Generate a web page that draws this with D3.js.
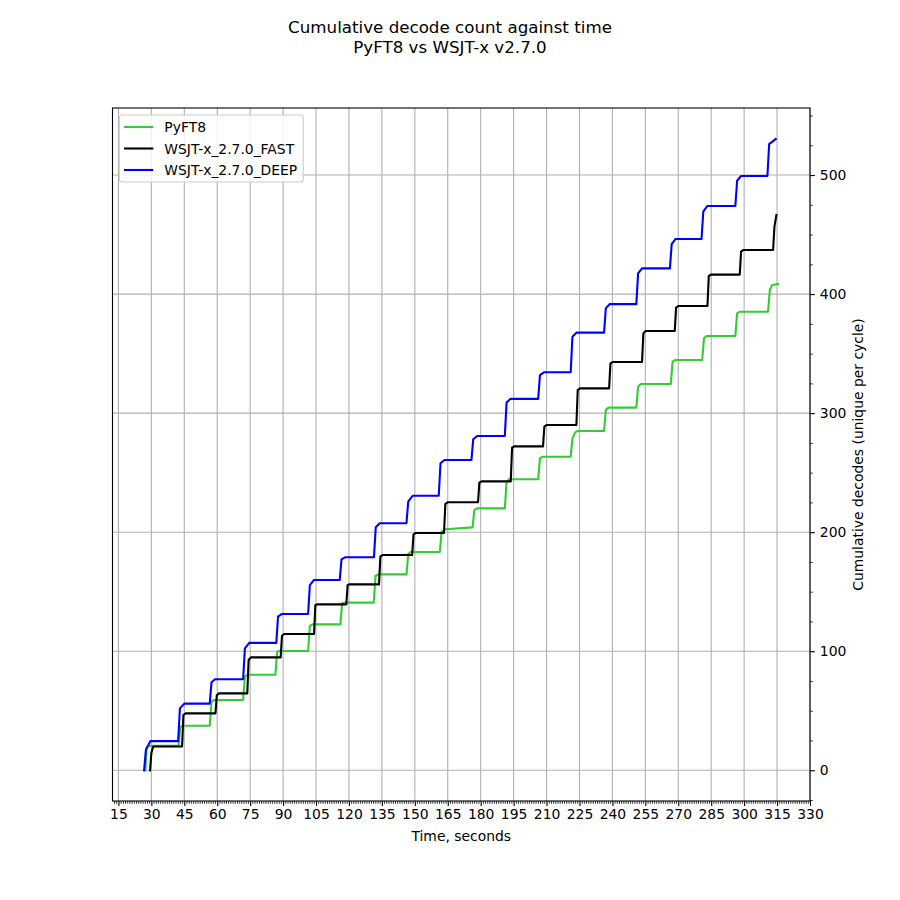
<!DOCTYPE html>
<html>
<head>
<meta charset="utf-8">
<script src="https://cdn.jsdelivr.net/npm/d3@7"></script>
<style>
  html, body { margin: 0; padding: 0; background: #fff; }
  svg text { font-family: "DejaVu Sans", sans-serif; fill: #000; }
</style>
</head>
<body>
<div id="chart"></div>
<script>
// cumulative decodes vs time
const pyft8 = [
  [27.3, 0], [27.8, 19], [28.5, 20.5],
  [42.4, 20.5], [43.2, 36.6], [44.5, 37.4],
  [56.6, 37.4], [57.4, 57.6], [58.5, 59],
  [71.8, 59], [72.6, 78.8], [73.8, 80.2],
  [86.5, 80.2], [87.3, 99.6], [88.5, 100.2],
  [101.4, 100.2], [102.2, 121.2], [103.4, 122.6],
  [116.1, 122.6], [116.9, 140.3], [118.0, 140.8],
  [131.3, 140.8], [132.1, 163.2], [133.3, 164.6],
  [146.2, 164.6], [147.0, 181.7], [148.2, 183.4],
  [161.4, 183.4], [162.2, 200.4], [164.0, 202.5],
  [176.3, 204], [177.1, 218.6], [178.3, 220],
  [191.0, 220], [191.8, 242.4], [193.0, 244.4],
  [206.2, 244.4], [207.0, 262], [208.2, 263.4],
  [221.0, 263.4], [221.8, 278.8], [223.0, 283.6], [224.0, 285],
  [236.2, 285], [237.0, 302.6], [238.2, 304.6],
  [250.9, 304.6], [251.7, 322.2], [252.9, 324.5],
  [266.6, 324.5], [267.4, 343.2], [268.6, 344.6],
  [280.9, 344.6], [281.7, 362.8], [282.9, 364.8],
  [296.0, 364.8], [296.8, 383.8], [298.0, 385.2],
  [310.9, 385.2], [311.7, 403.4], [312.8, 407.6], [315.5, 408.5]
];

const wsjtFast = [
  [29.4, 0], [30.0, 14.3], [30.8, 20],
  [44.0, 20], [44.6, 46.4], [45.6, 47.8],
  [59.2, 47.8], [59.8, 63], [60.8, 64.6],
  [73.7, 64.6], [74.3, 92.6], [75.3, 94.8],
  [88.9, 94.8], [89.5, 113], [90.5, 114.5],
  [104.1, 114.5], [104.7, 138.8], [105.7, 139.4],
  [118.8, 139.4], [119.4, 155.6], [120.4, 156.2],
  [133.7, 156.2], [134.3, 179.4], [135.3, 180.8],
  [148.8, 180.8], [149.4, 198.2], [150.4, 199.3],
  [163.3, 199.3], [163.9, 223.7], [164.9, 225.1],
  [178.8, 225.1], [179.4, 241.6], [180.4, 242.7],
  [193.7, 242.7], [194.3, 271], [195.3, 272.1],
  [208.4, 272.1], [209.0, 288.6], [210.0, 290],
  [223.6, 290], [224.2, 319.4], [225.2, 320.8],
  [238.5, 320.8], [239.1, 341.8], [240.1, 342.9],
  [253.5, 342.9], [254.1, 367], [255.1, 369],
  [268.4, 369], [269.0, 388.6], [270.0, 390],
  [283.3, 390], [283.9, 415.2], [284.9, 416.3],
  [298.0, 416.3], [298.6, 435.6], [299.6, 437],
  [313.2, 437], [313.8, 456.6], [314.7, 466.4]
];

const wsjtDeep = [
  [26.7, 0], [27.5, 17], [29.5, 24.5],
  [42.2, 24.5], [43.0, 52], [45.0, 56],
  [56.6, 56], [57.4, 74], [59.0, 76.5],
  [71.8, 76.5], [72.6, 102.4], [74.6, 107],
  [86.9, 107], [87.7, 129], [89.5, 131.3],
  [101.4, 131.3], [102.2, 155.6], [104.0, 159.8],
  [115.8, 159.8], [116.6, 177.2], [118.4, 179],
  [131.4, 179], [132.2, 204.1], [134.0, 207.5],
  [146.2, 207.5], [147.0, 225.6], [149.0, 230.6],
  [160.9, 230.6], [161.7, 257.9], [163.5, 260.6],
  [175.8, 260.6], [176.6, 278], [178.4, 280.8],
  [191.0, 280.8], [191.8, 309], [193.6, 312],
  [206.2, 312], [207.0, 332], [208.8, 334.3],
  [221.0, 334.3], [221.8, 364.2], [223.6, 367.6],
  [236.2, 367.6], [237.0, 388], [238.8, 391.6],
  [250.9, 391.6], [251.7, 417.4], [253.5, 421.6],
  [266.2, 421.6], [267.0, 442], [268.8, 446.3],
  [280.6, 446.3], [281.4, 469.2], [283.2, 474],
  [296.0, 474], [296.8, 495.2], [298.6, 499.2],
  [310.6, 499.2], [311.4, 526], [314.4, 530.3]
];

const seriesNames = ['PyFT8', 'WSJT-x_2.7.0_FAST', 'WSJT-x_2.7.0_DEEP'];
const seriesColors = ['#32cd32', '#000000', '#0000ff'];
const xTicks = [15, 30, 45, 60, 75, 90, 105, 120, 135, 150, 165, 180, 195, 210, 225, 240, 255, 270, 285, 300, 315, 330];
const yTicks = [0, 100, 200, 300, 400, 500];
const titleLines = ['Cumulative decode count against time', 'PyFT8 vs WSJT-x v2.7.0'];

const W = 900, H = 900;
const margin = { left: 112.5, right: 90, top: 108, bottom: 99 };
const iw = W - margin.left - margin.right;
const ih = H - margin.top - margin.bottom;

const svg = d3.select('#chart').append('svg')
  .attr('width', W)
  .attr('height', H)
  .attr('viewBox', `0 0 ${W} ${H}`);

svg.append('rect').attr('width', W).attr('height', H).attr('fill', '#fff');

const x = d3.scaleLinear().domain([12.3, 330]).range([0, iw]);
const y = d3.scaleLinear().domain([-25.8, 556.3]).range([ih, 0]);

const g = svg.append('g').attr('transform', `translate(${margin.left},${margin.top})`);

svg.append('defs').append('clipPath').attr('id', 'plot-clip')
  .append('rect').attr('width', iw).attr('height', ih);

// grid
const grid = g.append('g').attr('class', 'grid');
grid.selectAll('line.gx')
  .data(xTicks)
  .join('line')
  .attr('class', 'gx')
  .attr('x1', d => x(d)).attr('x2', d => x(d))
  .attr('y1', 0).attr('y2', ih)
  .attr('stroke', '#b0b0b0').attr('stroke-width', 1.1);
grid.selectAll('line.gy')
  .data(yTicks)
  .join('line')
  .attr('class', 'gy')
  .attr('x1', 0).attr('x2', iw)
  .attr('y1', d => y(d)).attr('y2', d => y(d))
  .attr('stroke', '#b0b0b0').attr('stroke-width', 1.1);

// series
const line = d3.line().x(d => x(d[0])).y(d => y(d[1]));
const lines = g.append('g').attr('clip-path', 'url(#plot-clip)');
[pyft8, wsjtFast, wsjtDeep].forEach((data, i) => {
  lines.append('path')
    .datum(data)
    .attr('d', line)
    .attr('fill', 'none')
    .attr('stroke', seriesColors[i])
    .attr('stroke-width', 2.1)
    .attr('stroke-linejoin', 'round')
    .attr('stroke-linecap', 'square');
});

// axes
const xMinor = d3.range(13, 331).filter(v => v % 15 !== 0);
const yMinor = d3.range(-25, 551, 25).filter(v => v % 100 !== 0);

const xAxis = g.append('g').attr('transform', `translate(0,${ih})`)
  .call(d3.axisBottom(x).tickValues(xTicks).tickFormat(d3.format('d')).tickSize(4.9).tickPadding(3.5));
const xAxisMinor = g.append('g').attr('transform', `translate(0,${ih})`)
  .call(d3.axisBottom(x).tickValues(xMinor).tickFormat('').tickSize(2.8));

const yAxis = g.append('g').attr('transform', `translate(${iw},0)`)
  .call(d3.axisRight(y).tickValues(yTicks).tickFormat(d3.format('d')).tickSize(4.9).tickPadding(4.9));
const yAxisMinor = g.append('g').attr('transform', `translate(${iw},0)`)
  .call(d3.axisRight(y).tickValues(yMinor).tickFormat('').tickSize(2.8));

[xAxis, xAxisMinor, yAxis, yAxisMinor].forEach(a => {
  a.select('.domain').remove();
  a.selectAll('line').attr('stroke', '#000').attr('stroke-width', 1.1);
  a.selectAll('text').attr('font-size', 13.9).attr('font-family', '"DejaVu Sans", sans-serif').attr('fill', '#000');
});
xAxisMinor.selectAll('line').attr('stroke-width', 0.8);
yAxisMinor.selectAll('line').attr('stroke-width', 0.8);

// spines
g.append('rect')
  .attr('width', iw).attr('height', ih)
  .attr('fill', 'none').attr('stroke', '#000').attr('stroke-width', 1.1);

// labels
svg.append('text')
  .attr('x', margin.left + iw / 2).attr('y', 841)
  .attr('text-anchor', 'middle').attr('font-size', 13.9)
  .text('Time, seconds');

svg.append('text')
  .attr('transform', `translate(863,${margin.top + ih / 2}) rotate(-90)`)
  .attr('text-anchor', 'middle').attr('font-size', 13.9)
  .text('Cumulative decodes (unique per cycle)');

svg.append('g').selectAll('text')
  .data(titleLines)
  .join('text')
  .attr('x', W / 2)
  .attr('y', (d, i) => 33 + i * 19.5)
  .attr('text-anchor', 'middle')
  .attr('font-size', 16.7)
  .text(d => d);

// legend
const legend = g.append('g').attr('transform', 'translate(6.8,7)');
legend.append('rect')
  .attr('width', 184).attr('height', 67)
  .attr('rx', 3).attr('ry', 3)
  .attr('fill', '#fff').attr('fill-opacity', 0.8)
  .attr('stroke', '#cccccc').attr('stroke-width', 1.1);

const items = legend.selectAll('g.item')
  .data(seriesNames)
  .join('g')
  .attr('class', 'item')
  .attr('transform', (d, i) => `translate(0,${12 + i * 21.5})`);
items.append('line')
  .attr('x1', 4.7).attr('x2', 34)
  .attr('stroke', (d, i) => seriesColors[i])
  .attr('stroke-width', 2.1);
items.append('text')
  .attr('x', 45).attr('y', 5)
  .attr('font-size', 13.9)
  .text(d => d);
</script>
</body>
</html>
